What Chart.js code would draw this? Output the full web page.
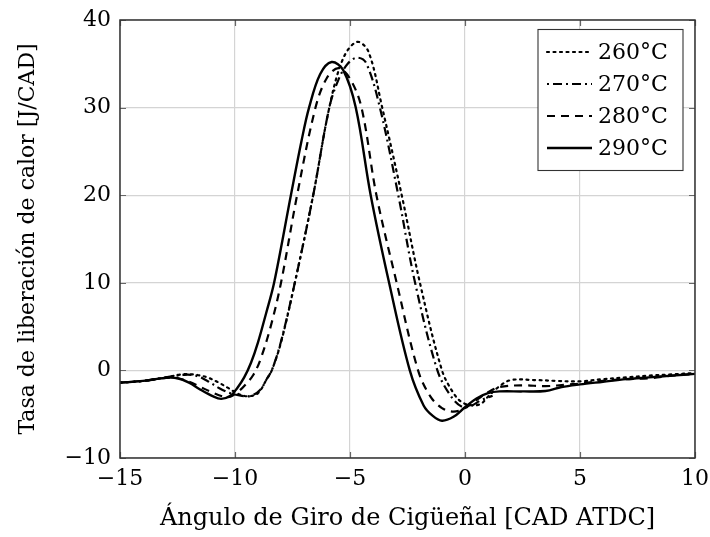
<!DOCTYPE html>
<html>
<head>
<meta charset="utf-8">
<script src="https://cdn.jsdelivr.net/npm/chart.js@4.4.1/dist/chart.umd.min.js"></script>
<style>
  html, body { margin: 0; padding: 0; background: #fff; }
  #wrap { width: 710px; height: 537px; position: relative; }
</style>
</head>
<body>
<div id="wrap"><canvas id="c" width="710" height="537"></canvas></div>
<script>
// ---- data ----
const seriesLabels = ['260°C', '270°C', '280°C', '290°C'];

const angle260 = [-15, -14, -13, -12.3, -11.7, -11.2, -10.7, -10.3, -9.8, -9.4, -9.0, -8.6, -8.4, -8.0, -7.4, -6.6, -5.9, -5.3, -4.7, -4.2, -3.6, -2.75, -1.96, -1.0, -0.5, -0.15, 0.3, 0.7, 1.0, 1.5, 2.0, 3.0, 4.0, 5.0, 6.0, 7.0, 8.0, 9.0, 10.0];
const rate260  = [-1.4, -1.2, -0.8, -0.45, -0.5, -0.8, -1.4, -2.0, -2.75, -2.95, -2.6, -0.9, 0, 3.2, 10, 20, 30, 35.6, 37.5, 36.4, 30, 20, 10, 0, -2.6, -3.6, -4.0, -3.8, -3.0, -1.8, -1.1, -1.1, -1.2, -1.25, -1.0, -0.8, -0.6, -0.45, -0.3];

const angle270 = [-15, -14, -13, -12.2, -11.7, -11.2, -10.7, -10.2, -9.7, -9.3, -8.9, -8.6, -8.4, -8.0, -7.4, -6.6, -5.9, -5.5, -5.1, -4.7, -4.3, -3.7, -2.9, -2.17, -1.2, -0.6, -0.1, 0.3, 0.7, 1.2];
const rate270  = [-1.4, -1.2, -0.8, -0.5, -0.6, -1.2, -2.0, -2.6, -2.9, -2.9, -2.2, -0.9, 0, 3.3, 10, 20, 30, 33.2, 35.0, 35.7, 35.1, 30, 20, 10, 0, -3.0, -4.2, -4.0, -3.4, -2.9];

const angle280 = [-15, -14, -13, -12.5, -12, -11.5, -11, -10.5, -10.2, -9.8, -9.5, -9.2, -8.9, -8.45, -8.0, -7.3, -6.5, -6.0, -5.5, -5.0, -4.5, -3.85, -2.97, -2.04, -1.5, -1.0, -0.5, 0, 0.5, 1.0, 1.5, 2.5, 3.5, 4.5, 5, 6, 7, 8, 9, 10];
const rate280  = [-1.4, -1.2, -0.85, -0.9, -1.3, -1.9, -2.5, -3.0, -3.0, -2.3, -1.5, -0.5, 1.2, 5, 10, 20, 30, 33.4, 34.5, 33.3, 30, 20, 10, 0, -3.0, -4.3, -4.7, -4.3, -3.4, -2.5, -1.9, -1.7, -1.8, -1.6, -1.5, -1.2, -1.0, -0.9, -0.6, -0.4];

const angle290 = [-15, -14, -13, -12.5, -12, -11.5, -11, -10.6, -10.2, -9.9, -9.6, -9.3, -9.0, -8.65, -8.3, -7.57, -7.1, -6.78, -6.3, -5.8, -5.3, -4.75, -4.1, -3.3, -2.4, -1.8, -1.4, -1.0, -0.5, 0, 0.5, 1.0, 1.5, 2.5, 3.5, 4.2, 5, 6, 7, 8, 9, 10];
const rate290  = [-1.4, -1.2, -0.85, -0.9, -1.4, -2.2, -2.9, -3.25, -2.9, -2.0, -0.8, 0.9, 3.2, 6.5, 10, 20, 26.3, 30, 33.8, 35.2, 34.3, 30, 20, 10, 0, -4.0, -5.2, -5.75, -5.3, -4.2, -3.2, -2.6, -2.4, -2.4, -2.35, -1.9, -1.6, -1.3, -1.0, -0.8, -0.6, -0.4];

const xTickValues = [-15, -10, -5, 0, 5, 10];
const yTickValues = [-10, 0, 10, 20, 30, 40];

const xTitle = 'Ángulo de Giro de Cigüeñal [CAD ATDC]';
const yTitle = 'Tasa de liberación de calor [J/CAD]';

// ---- build ----
const FONT = '"DejaVu Serif", serif';
const toPts = (xs, ys) => xs.map((x, i) => ({ x: x, y: ys[i] }));
const fmt = v => String(v).replace('-', '\u2212');

const styles = [
  { dash: [2, 4.5], width: 2.2, cap: 'round' },
  { dash: [2, 4, 9, 4], width: 2.2, cap: 'butt' },
  { dash: [8, 6], width: 2.2, cap: 'butt' },
  { dash: [], width: 2.4, cap: 'butt' }
];
const seriesData = [toPts(angle260, rate260), toPts(angle270, rate270), toPts(angle280, rate280), toPts(angle290, rate290)];

const datasets = seriesLabels.map((lab, i) => ({
  label: lab,
  data: seriesData[i],
  borderColor: '#000',
  borderWidth: styles[i].width,
  borderDash: styles[i].dash,
  borderCapStyle: styles[i].cap,
  pointRadius: 0,
  fill: false,
  tension: 0.35
}));

const framePlugin = {
  id: 'frame',
  afterDatasetsDraw(chart) {
    const { ctx, chartArea: a, scales } = chart;
    const sx = scales.x, sy = scales.y;
    ctx.save();
    ctx.strokeStyle = '#666';
    ctx.lineWidth = 1.2;
    ctx.beginPath();
    xTickValues.forEach(v => {
      const p = Math.round(sx.getPixelForValue(v)) + 0.5;
      ctx.moveTo(p, a.bottom); ctx.lineTo(p, a.bottom - 6);
      ctx.moveTo(p, a.top); ctx.lineTo(p, a.top + 6);
    });
    yTickValues.forEach(v => {
      const p = Math.round(sy.getPixelForValue(v)) + 0.5;
      ctx.moveTo(a.left, p); ctx.lineTo(a.left + 6, p);
      ctx.moveTo(a.right, p); ctx.lineTo(a.right - 6, p);
    });
    ctx.stroke();
    ctx.strokeStyle = '#333';
    ctx.lineWidth = 1.5;
    ctx.strokeRect(a.left, a.top, a.right - a.left, a.bottom - a.top);

    // legend box (upper right, inside plot)
    const bx = 538, by = 29.5, bw = 145, bh = 141;
    ctx.fillStyle = '#fff';
    ctx.fillRect(bx, by, bw, bh);
    ctx.strokeStyle = '#333';
    ctx.lineWidth = 1.1;
    ctx.strokeRect(bx, by, bw, bh);
    ctx.font = '22px ' + FONT;
    ctx.textBaseline = 'middle';
    ctx.fillStyle = '#000';
    chart.data.datasets.forEach((ds, i) => {
      const yy = by + 22.5 + i * 32;
      ctx.beginPath();
      ctx.setLineDash(ds.borderDash);
      ctx.lineCap = ds.borderCapStyle;
      ctx.lineWidth = ds.borderWidth;
      ctx.strokeStyle = '#000';
      ctx.moveTo(bx + 9, yy);
      ctx.lineTo(bx + 54, yy);
      ctx.stroke();
      ctx.setLineDash([]);
      ctx.fillText(ds.label, bx + 60, yy + 1);
    });
    ctx.restore();
  }
};

new Chart(document.getElementById('c'), {
  type: 'line',
  data: { datasets: datasets },
  plugins: [framePlugin],
  options: {
    responsive: false,
    animation: false,
    devicePixelRatio: 1,
    layout: { padding: { top: 20, right: 15, left: 0, bottom: 0 } },
    plugins: { legend: { display: false }, tooltip: { enabled: false } },
    scales: {
      x: {
        type: 'linear',
        min: -15, max: 10,
        afterBuildTicks: s => { s.ticks = xTickValues.map(v => ({ value: v })); },
        afterFit: s => { s.height = 79; s.paddingLeft = 0; s.paddingRight = 0; },
        grid: { color: '#d4d4d4', lineWidth: 1.2, drawTicks: false },
        border: { display: false },
        ticks: { callback: fmt, font: { family: FONT, size: 22 }, color: '#000', padding: 8, maxRotation: 0 },
        title: { display: true, text: xTitle, font: { family: FONT, size: 24 }, color: '#000', padding: { top: 0, bottom: 4 } }
      },
      y: {
        type: 'linear',
        min: -10, max: 40,
        afterBuildTicks: s => { s.ticks = yTickValues.map(v => ({ value: v })); },
        afterFit: s => { s.width = 120; s.paddingTop = 0; s.paddingBottom = 0; },
        grid: { color: '#d4d4d4', lineWidth: 1.2, drawTicks: false },
        border: { display: false },
        ticks: { callback: fmt, font: { family: FONT, size: 22 }, color: '#000', padding: 9 },
        title: { display: true, text: yTitle, font: { family: FONT, size: 22 }, color: '#000', padding: { top: 15, bottom: 0 } }
      }
    }
  }
});
</script>
</body>
</html>
